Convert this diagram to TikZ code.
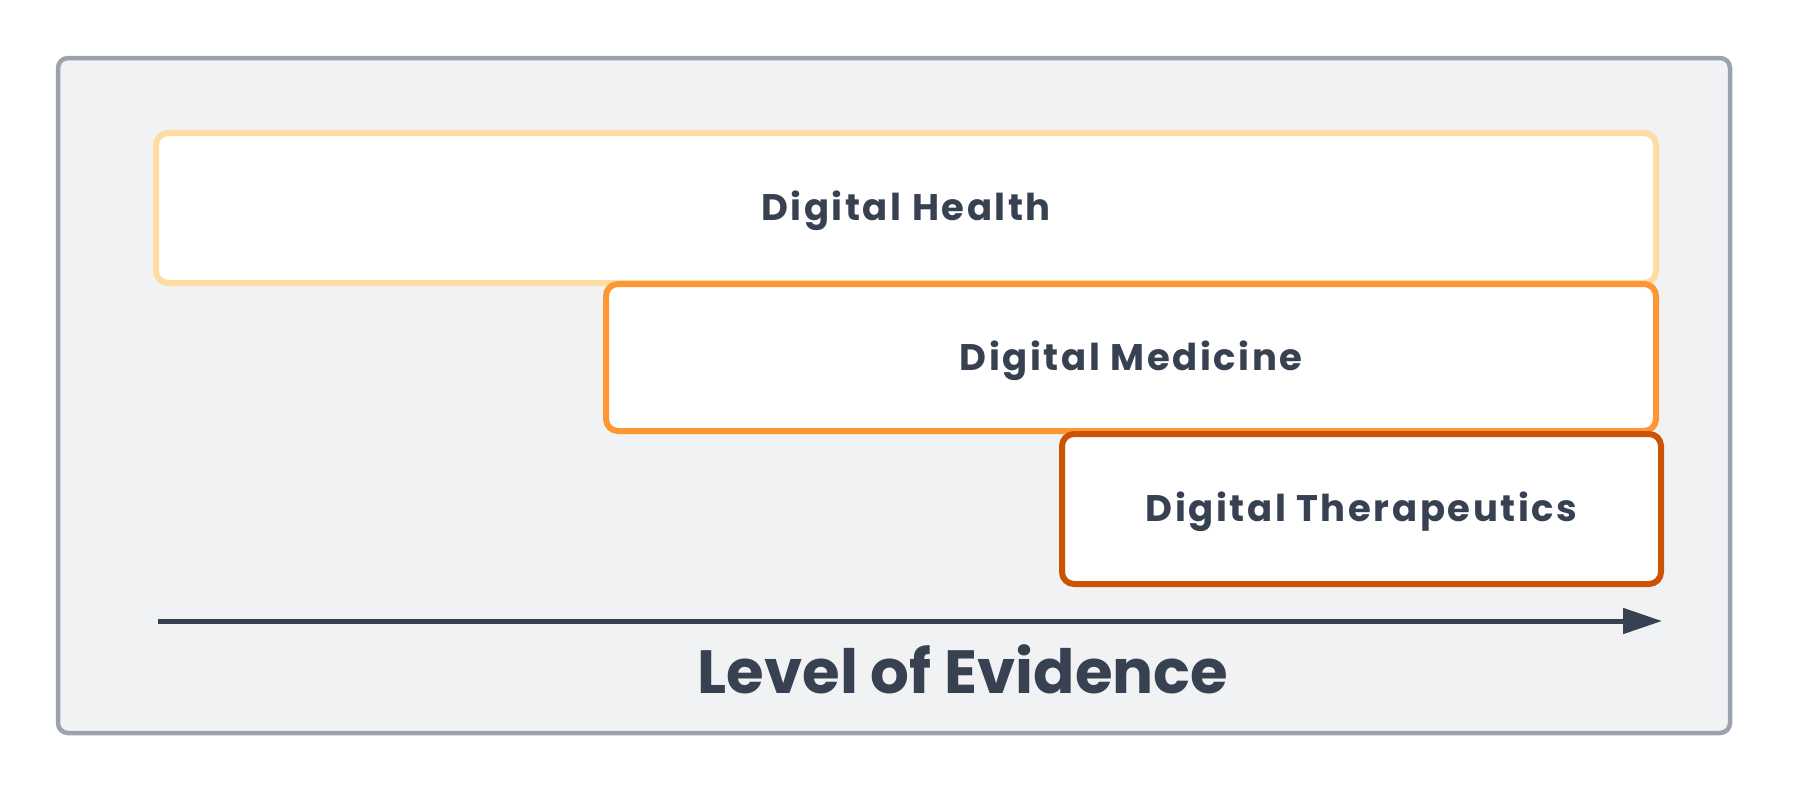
\documentclass[tikz,border=0pt]{standalone}
\usepackage{fontspec}
\setmainfont{Poppins}[BoldFont={* Bold}]
\newfontfamily\boxfont{Poppins}[BoldFont={* Bold}, LetterSpace=7]
\usetikzlibrary{arrows.meta}
\definecolor{bgfill}{HTML}{F1F2F4}
\definecolor{bgline}{HTML}{9CA3AF}
\definecolor{txt}{HTML}{374151}
\definecolor{health}{HTML}{FEDCA2}
\definecolor{medicine}{HTML}{FD9633}
\definecolor{thera}{HTML}{CC5204}
\tikzset{
  levelbox/.style={draw, fill=white, line width=3pt, rounded corners=6pt},
  lbl/.style={text=txt, font=\boxfont\bfseries\fontsize{18.5}{21}\selectfont},
}
\begin{document}
\begin{tikzpicture}[x=0.5pt,y=-0.5pt]
\useasboundingbox (0,0) rectangle (1815,793);
\draw[fill=bgfill, draw=bgline, line width=2.25pt, rounded corners=5pt] (58,58) rectangle (1730,733);
\draw[levelbox, draw=health] (156,133) rectangle (1656,283);
\draw[levelbox, draw=medicine] (606,284) rectangle (1656,431);
\draw[levelbox, draw=thera] (1062,434) rectangle (1661,584);
\node[lbl] (h) at (906,211) {Digital Health};
\node[lbl] (m) at (1131,360.5) {Digital Medicine};
\node[lbl] (t) at (1361.5,512) {Digital Therapeutics};
\coordinate (a0) at (158,621);
\coordinate (a1) at (1662,621);
\draw[txt, line width=2.5pt, -{Triangle[length=19.5pt,width=12.5pt]}] (a0) -- (a1);
\node[text=txt, font=\bfseries\fontsize{30.5}{34}\selectfont] (e) at (963,669) {Level of Evidence};
\end{tikzpicture}
\end{document}
